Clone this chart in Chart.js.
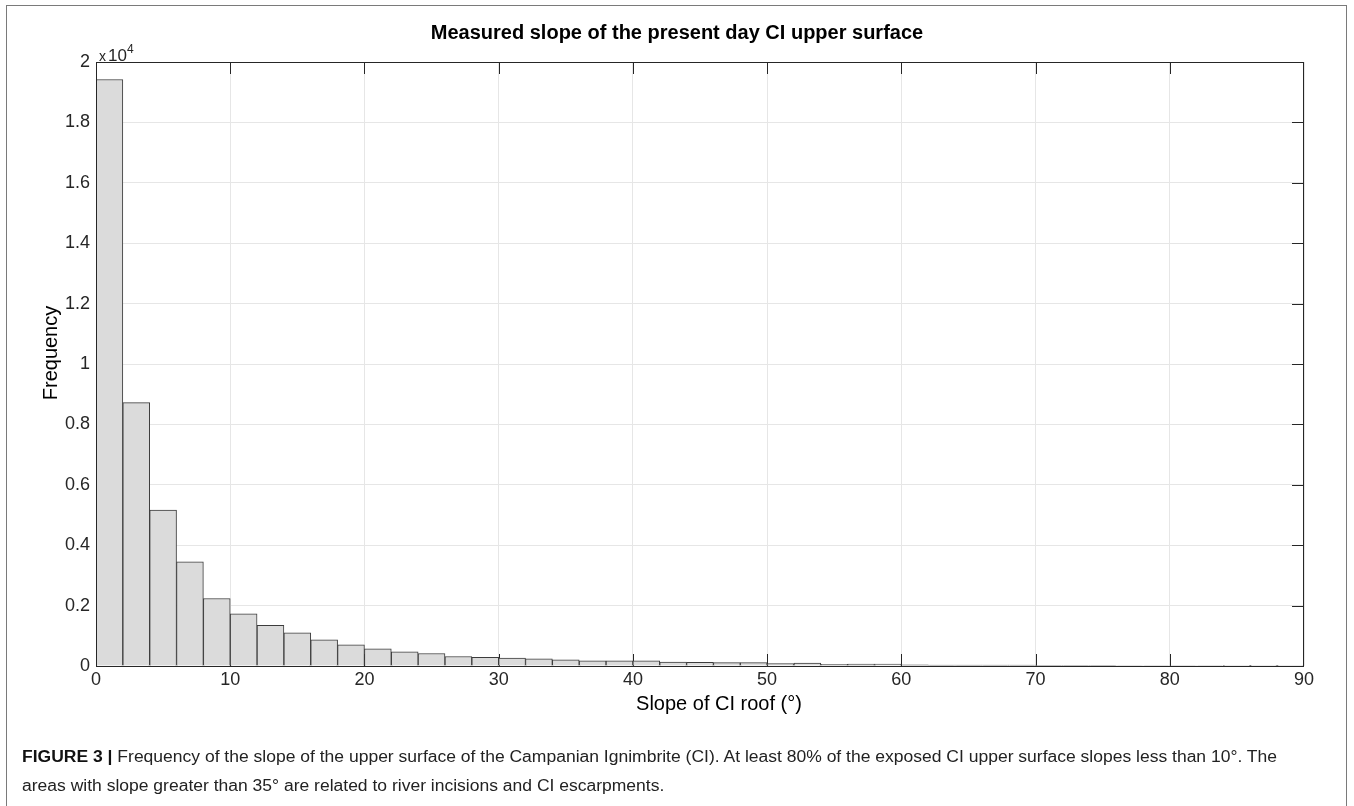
<!DOCTYPE html>
<html>
<head>
<meta charset="utf-8">
<script src="https://cdn.jsdelivr.net/npm/chart.js@4.4.1/dist/chart.umd.min.js"></script>
<style>
  html, body { margin: 0; padding: 0; background: #fff; }
  #wrap { position: relative; width: 1354px; height: 806px; overflow: hidden; }
  #frame {
    position: absolute; left: 6px; top: 5px; width: 1341px; height: 830px;
    border: 1.5px solid #7a7a7a; box-sizing: border-box;
  }
  canvas { position: absolute; left: 0; top: 0; }
  .cap {
    position: absolute; left: 22px; white-space: nowrap; color: #222;
    font-family: "Liberation Sans", Arial, sans-serif; font-size: 16px;
    transform-origin: 0 0;
  }
  .cap b { font-weight: bold; color: #111; }
</style>
</head>
<body>
<div id="wrap">
  <div id="frame"></div>
  <canvas id="myChart" width="1354" height="806"></canvas>
  <div class="cap" id="cap1"><b>FIGURE 3 |</b> Frequency of the slope of the upper surface of the Campanian Ignimbrite (CI). At least 80% of the exposed CI upper surface slopes less than 10°. The</div>
  <div class="cap" id="cap2">areas with slope greater than 35° are related to river incisions and CI escarpments.</div>
</div>
<script>
// histogram bins (degrees), 2° wide
const binCenters = [1, 3, 5, 7, 9, 11, 13, 15, 17, 19, 21, 23, 25, 27, 29, 31, 33, 35, 37, 39,
  41, 43, 45, 47, 49, 51, 53, 55, 57, 59, 61, 63, 65, 67, 69, 71, 73, 75, 77, 79,
  81, 83, 85, 87, 89];
const counts = [19420, 8720, 5160, 3450, 2235, 1730, 1350, 1100, 870, 700,
  570, 470, 415, 315, 290, 265, 240, 205, 175, 175,
  170, 130, 125, 110, 110, 80, 95, 55, 60, 65,
  40, 30, 30, 30, 30, 25, 25, 20, 15, 15,
  15, 15, 10, 10, 10];
const xTicks = [0, 10, 20, 30, 40, 50, 60, 70, 80, 90];
const yTickLabels = ["0", "0.2", "0.4", "0.6", "0.8", "1", "1.2", "1.4", "1.6", "1.8", "2"];

const axisColor = "#262626";
const font = "'Liberation Sans', Arial, sans-serif";

// text + box + MATLAB style inner ticks
const decorations = {
  id: "decorations",
  beforeDatasetsDraw(chart) {
    const { ctx, chartArea: a, scales } = chart;
    ctx.save();
    ctx.strokeStyle = axisColor;
    ctx.lineWidth = 1;
    ctx.beginPath();
    xTicks.slice(1, -1).forEach(v => {
      const x = Math.round(scales.x.getPixelForValue(v)) + 0.5;
      ctx.moveTo(x, a.bottom); ctx.lineTo(x, a.bottom - 12);
      ctx.moveTo(x, a.top); ctx.lineTo(x, a.top + 12);
    });
    yTickLabels.forEach((l, i) => {
      if (i === 0 || i === yTickLabels.length - 1) return;
      const y = Math.round(scales.y.getPixelForValue(i * 2000)) + 0.5;
      ctx.moveTo(a.left, y); ctx.lineTo(a.left + 12, y);
      ctx.moveTo(a.right, y); ctx.lineTo(a.right - 12, y);
    });
    ctx.stroke();
    ctx.restore();
  },
  afterDatasetsDraw(chart) {
    const { ctx, chartArea: a } = chart;
    ctx.save();
    ctx.strokeStyle = axisColor;
    ctx.lineWidth = 1;
    ctx.strokeRect(Math.round(a.left) + 0.5, Math.round(a.top) + 0.5,
      Math.round(a.right - a.left) - 1, Math.round(a.bottom - a.top));

    ctx.fillStyle = "#000";
    ctx.textAlign = "center";
    ctx.textBaseline = "middle";
    ctx.font = "bold 20px " + font;
    ctx.fillText("Measured slope of the present day CI upper surface", 677, 33);

    ctx.font = "20px " + font;
    ctx.fillText("Slope of CI roof (°)", 719, 704);

    ctx.save();
    ctx.translate(51, 353);
    ctx.rotate(-Math.PI / 2);
    ctx.fillText("Frequency", 0, 0);
    ctx.restore();

    // exponent
    ctx.fillStyle = axisColor;
    ctx.textAlign = "left";
    ctx.textBaseline = "alphabetic";
    ctx.font = "14px " + font;
    ctx.fillText("x", a.left + 3, 61);
    ctx.font = "17px " + font;
    ctx.fillText("10", a.left + 12, 61);
    ctx.font = "12px " + font;
    ctx.fillText("4", a.left + 31, 53);
    ctx.restore();
  }
};

const ctx = document.getElementById("myChart");

new Chart(ctx, {
  type: "bar",
  data: {
    datasets: [
      {
        label: "Frequency",
        data: binCenters.map((x, i) => ({ x: x, y: counts[i] })),
        backgroundColor: "#dbdbdb",
        borderColor: "#3c3c3c",
        borderWidth: { top: 1, left: 1, right: 1, bottom: 0 },
        borderSkipped: false,
        barPercentage: 1,
        categoryPercentage: 1,
      },
    ],
  },
  options: {
    responsive: false,
    animation: false,
    devicePixelRatio: 1,
    layout: { padding: { top: 62, right: 50, left: 0, bottom: 0 } },
    plugins: {
      legend: { display: false },
      tooltip: { enabled: false },
      title: { display: false },
    },
    scales: {
      x: {
        type: "linear",
        min: 0,
        max: 90,
        offset: false,
        afterFit: s => { s.height = 140; },
        afterBuildTicks: s => { s.ticks = xTicks.map(v => ({ value: v })); },
        grid: { color: "#e6e6e6", drawTicks: false, offset: false },
        border: { display: false },
        ticks: {
          color: axisColor,
          padding: 3,
          maxRotation: 0,
          font: { family: font, size: 18 },
        },
      },
      y: {
        min: 0,
        max: 20000,
        afterFit: s => { s.width = 96; },
        afterBuildTicks: s => { s.ticks = yTickLabels.map((l, i) => ({ value: i * 2000 })); },
        grid: { color: "#e6e6e6", drawTicks: false },
        border: { display: false },
        ticks: {
          color: axisColor,
          padding: 6,
          font: { family: font, size: 18 },
          callback: (v, i) => yTickLabels[i],
        },
      },
    },
  },
  plugins: [decorations],
});

// caption: squeeze the first line to the reference width (condensed look)
(function () {
  const c1 = document.getElementById("cap1");
  const c2 = document.getElementById("cap2");
  const target = 1255;
  const k = target / c1.getBoundingClientRect().width;
  [c1, c2].forEach(c => { c.style.transform = "scaleX(" + k + ")"; });
  c1.style.top = "748px";
  c2.style.top = "777px";
})();
</script>
</body>
</html>
